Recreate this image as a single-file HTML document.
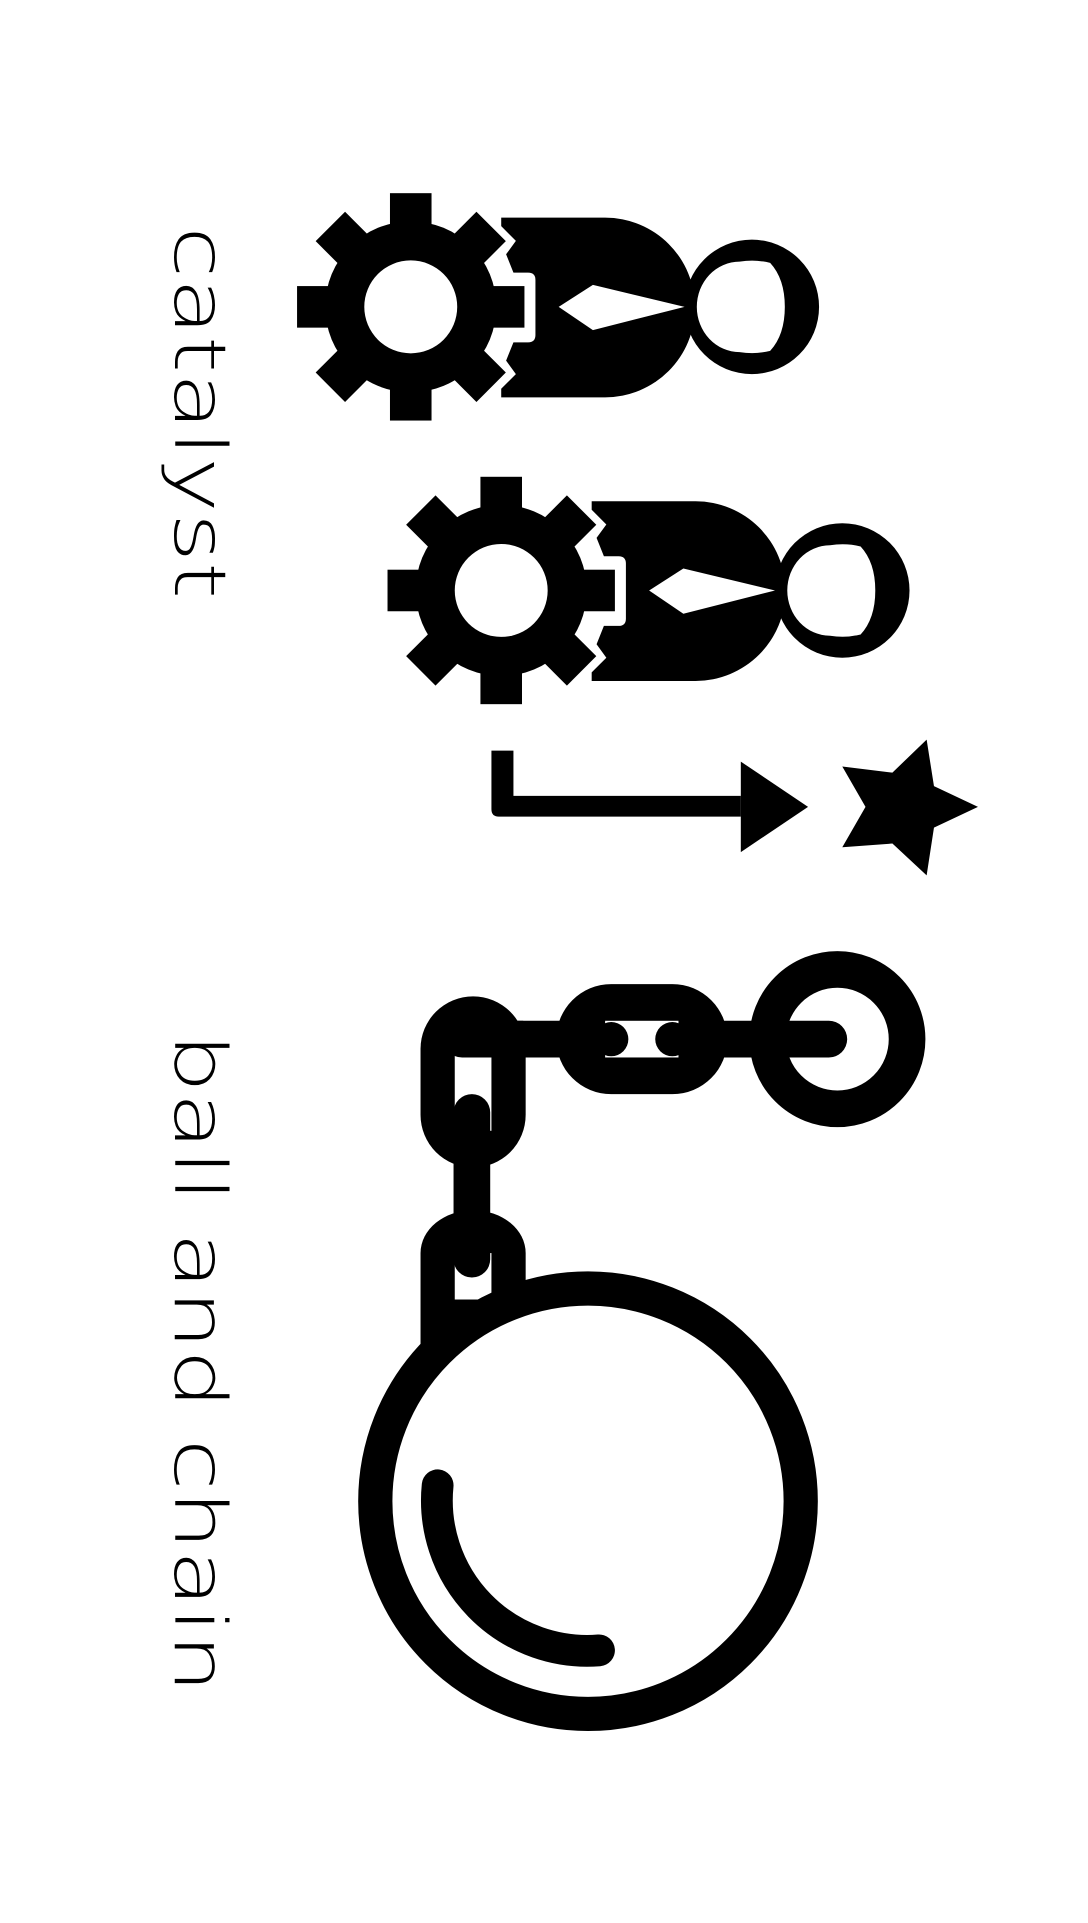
<!DOCTYPE html>
<html><head><meta charset="utf-8"><style>
html,body{margin:0;padding:0;background:#fff;}
svg{display:block;}
</style></head><body>
<svg width="1088" height="1923" viewBox="0 0 890 1573" xmlns="http://www.w3.org/2000/svg">
<defs>
  <g id="gear">
    <g fill="#000">
      <rect x="-17" y="-93" width="34" height="186"/>
      <rect x="-17" y="-93" width="34" height="186" transform="rotate(45)"/>
      <rect x="-17" y="-93" width="34" height="186" transform="rotate(90)"/>
      <rect x="-17" y="-93" width="34" height="186" transform="rotate(135)"/>
      <circle r="70"/>
    </g>
    <circle r="38" fill="#fff"/>
  </g>
  <g id="body">
    <path d="M0,0 H85 A73,73 0 0 1 85,147 H0 V140 L12,128 L4,117 L10,102 H22 Q28,102 28,96 V51 Q28,45 22,45 H10 L4,30 L12,19 L0,7 Z" fill="#000"/>
    <polygon points="47,73 75,55 150,73 75,92" fill="#fff"/>
    <circle cx="205" cy="73" r="55" fill="#000"/>
    <path d="M220,37 Q232,50 232,73 Q232,96 220,109 Q208,112 195,110 A35,37 0 0 1 195,36 Q208,34 220,37 Z" fill="#fff"/>
  </g>
</defs>

<text transform="translate(143,185) rotate(90)" font-family="DejaVu Sans, Liberation Sans, sans-serif" font-weight="200" font-size="58" textLength="305" lengthAdjust="spacingAndGlyphs" fill="#000">catalyst</text>
<text transform="translate(143,845) rotate(90)" font-family="DejaVu Sans, Liberation Sans, sans-serif" font-weight="200" font-size="58" textLength="540" lengthAdjust="spacingAndGlyphs" fill="#000">ball and chain</text>

<g>
  <use href="#gear" x="336" y="251"/>
  <use href="#body" x="410" y="178"/>
</g>
<g>
  <use href="#gear" x="410" y="483"/>
  <use href="#body" x="484" y="410"/>
</g>

<g fill="#000">
  <path d="M402,614 H420 V651 H606 V668 H408 Q402,668 402,662 Z"/>
  <polygon points="606,623 661,660 606,697"/>
</g>
<polygon fill="#000" points="800,660 764,677 758,716 730,690 689,693 708,660 689,627 730,632 758,605 764,643"/>

<g>
  <path d="M344,1100 V1025 A43,35 0 0 1 430,1025 V1060 L344,1100 Z" fill="#000"/>
  <rect x="372" y="1025" width="30" height="38" fill="#fff"/>
  <rect x="344" y="815" width="86" height="140" rx="43" fill="#000"/>
  <rect x="372" y="862" width="30" height="63" fill="#fff"/>
  <line x1="386" y1="910" x2="386" y2="1030" stroke="#000" stroke-width="30" stroke-linecap="round"/>
  <circle cx="685" cy="850" r="57" fill="none" stroke="#000" stroke-width="30"/>
  <line x1="378" y1="850" x2="678" y2="850" stroke="#000" stroke-width="30" stroke-linecap="round"/>
  <rect x="455" y="805" width="140" height="90" rx="45" fill="#000"/>
  <rect x="495" y="835" width="60" height="30" fill="#fff"/>
  <circle cx="500" cy="850" r="14" fill="#000"/>
  <circle cx="550" cy="850" r="14" fill="#000"/>
  <rect x="400" y="835" width="28" height="30" fill="#000"/>
  <circle cx="481" cy="1228" r="174" fill="#fff" stroke="#000" stroke-width="28"/>
  <path d="M358,1215 A123,123 0 0 0 490,1350" fill="none" stroke="#000" stroke-width="26" stroke-linecap="round"/>
</g>
</svg>
</body></html>
